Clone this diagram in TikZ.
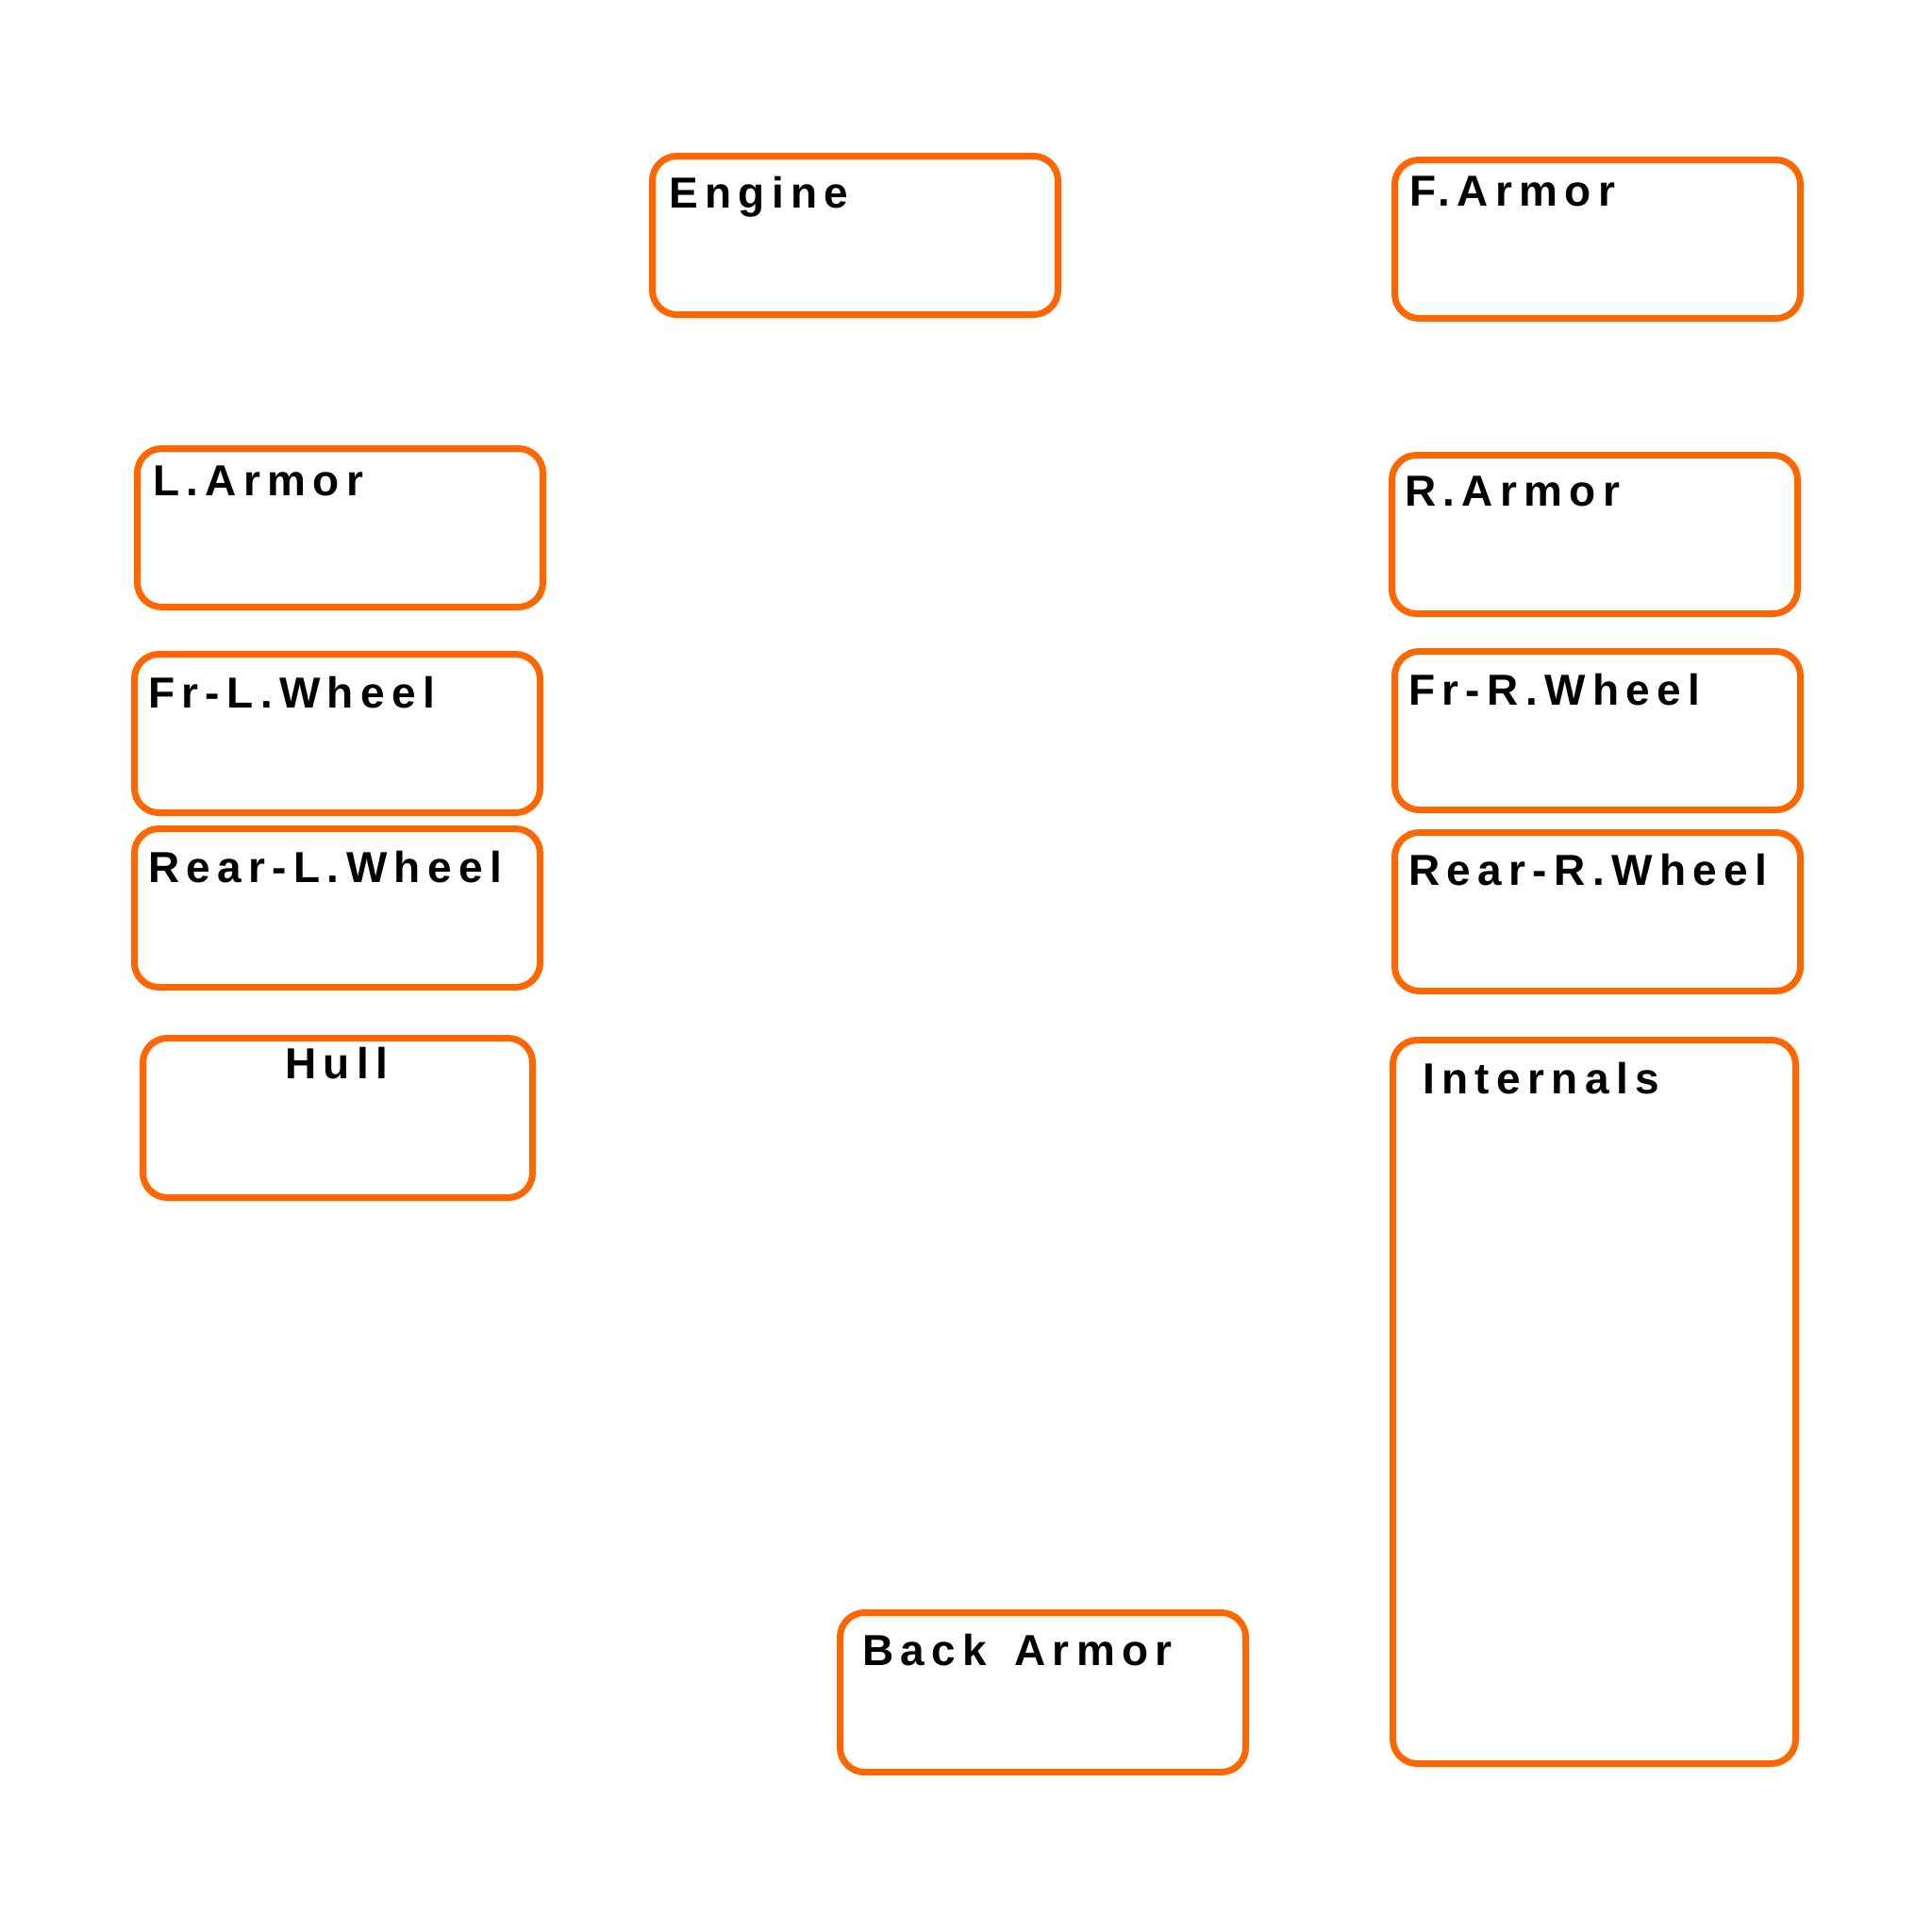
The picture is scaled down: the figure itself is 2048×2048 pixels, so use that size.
\documentclass[tikz,border=0pt]{standalone}
\usepackage{fontspec}
\usepackage{tikz}
\usetikzlibrary{positioning}

\newfontfamily\partfont[LetterSpace=16]{Liberation Sans Bold}
\definecolor{partorange}{RGB}{255,102,0}

\tikzset{
  part/.style={draw=partorange, line width=7pt, rounded corners=26pt, anchor=north west,
    minimum width=430pt, minimum height=168pt, inner sep=0pt, outer sep=0pt},
  partlbl/.style={anchor=base west, inner sep=0pt, font={\partfont\fontsize{46}{55}\selectfont}}
}

\begin{document}
\begin{tikzpicture}[x=1pt,y=1pt,yscale=-1,xscale=1]
\useasboundingbox (0,0) rectangle (2048,2048); %whole page, 2048 x 2048

%Shape: Rounded Rectangle [engine]
\node [part] (engine) at (691.5,165.5) {};
%Shape: Rounded Rectangle [front armor]
\node [part] (farmor) at (1478.5,169.5) {};
%Shape: Rounded Rectangle [left armor]
\node [part] (larmor) at (145.5,475.5) {};
%Shape: Rounded Rectangle [right armor]
\node [part] (rarmor) at (1475.5,482.5) {};
%Shape: Rounded Rectangle [front left wheel]
\node [part] (frlwheel) at (142.5,693.5) {};
%Shape: Rounded Rectangle [front right wheel]
\node [part] (frrwheel) at (1478.5,690.5) {};
%Shape: Rounded Rectangle [rear left wheel]
\node [part] (rearlwheel) at (142.5,878.5) {};
%Shape: Rounded Rectangle [rear right wheel]
\node [part] (rearrwheel) at (1478.5,882.5) {};
%Shape: Rounded Rectangle [hull]
\node [part, minimum width=413pt, minimum height=169pt] (hull) at (151.5,1100.5) {};
%Shape: Rounded Rectangle [internals]
\node [part, minimum width=427pt, minimum height=767pt] (internals) at (1476.5,1102.5) {};
%Shape: Rounded Rectangle [back armor]
\node [part, minimum height=169pt] (barmor) at (890.5,1709.5) {};

% Text Node
\node [partlbl] (engineT) at (709,220) {Engine};
% Text Node
\node [partlbl] (farmorT) at (1494,218) {F.Armor};
% Text Node
\node [partlbl] (larmorT) at (162,525) {L.Armor};
% Text Node
\node [partlbl] (rarmorT) at (1489,536) {R.Armor};
% Text Node
\node [partlbl] (frlwheelT) at (157,750) {Fr-L.Wheel};
% Text Node
\node [partlbl] (frrwheelT) at (1493,747) {Fr-R.Wheel};
% Text Node
\node [partlbl] (rearlwheelT) at (157,935) {Rear-L.Wheel};
% Text Node
\node [partlbl] (rearrwheelT) at (1493,938) {Rear-R.Wheel};
% Text Node
\node [partlbl] (hullT) at (302,1143) {Hull};
% Text Node
\node [partlbl] (internalsT) at (1508,1159) {Internals};
% Text Node
\node [partlbl] (barmorT) at (914,1765) {Back\hspace{9pt} Armor};

\end{tikzpicture}
\end{document}
